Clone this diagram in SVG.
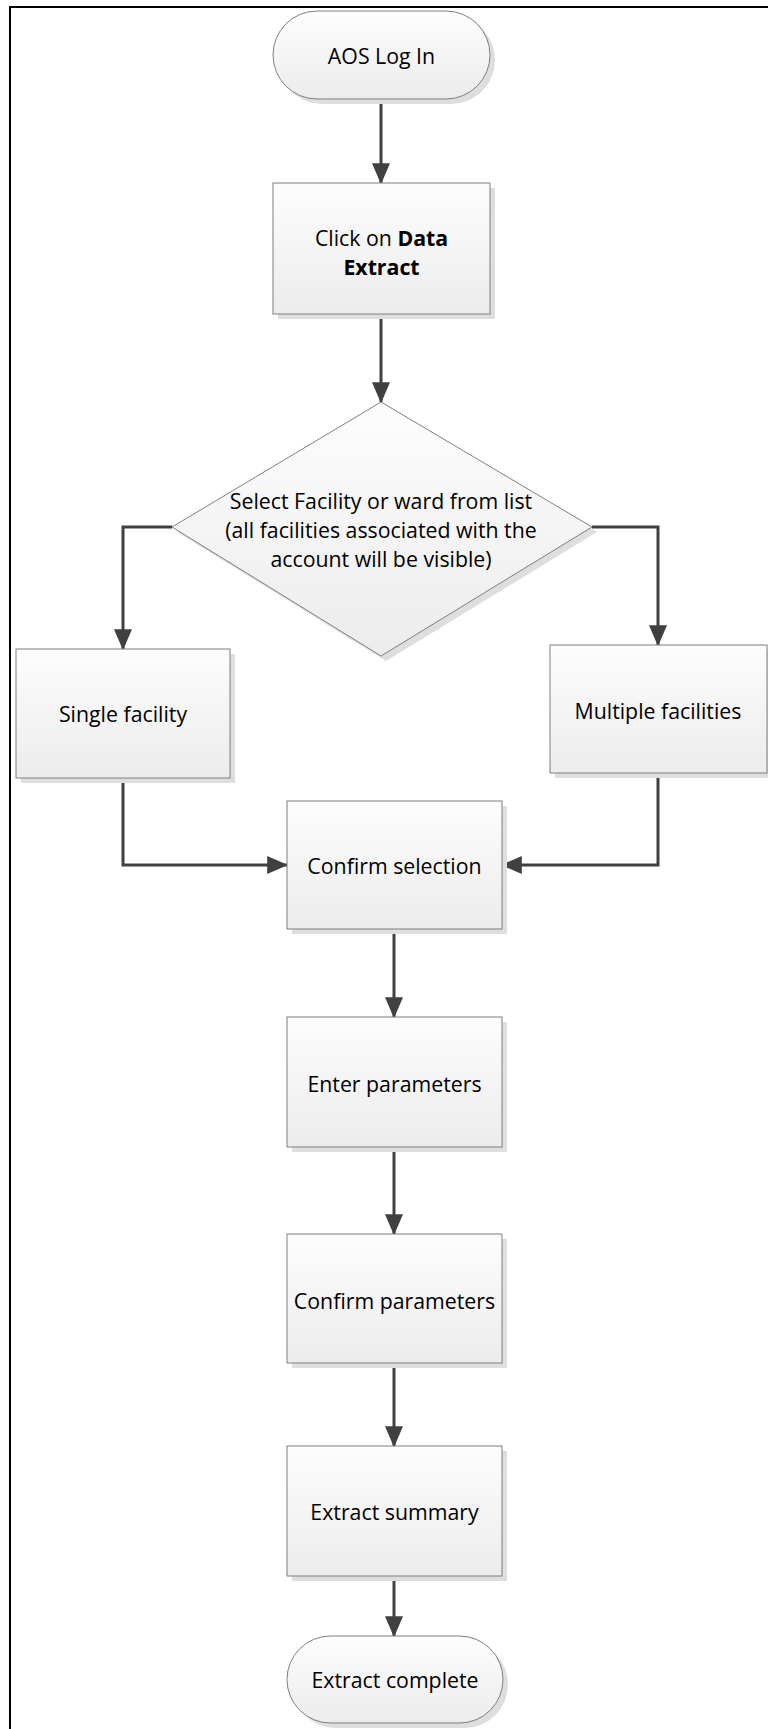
<svg xmlns="http://www.w3.org/2000/svg" width="768" height="1729" viewBox="0 0 768 1729">
<defs>
<linearGradient id="g" x1="0" y1="0" x2="0" y2="1">
<stop offset="0" stop-color="#fdfdfd"/>
<stop offset="1" stop-color="#ececec"/>
</linearGradient>
<marker id="ah" markerWidth="7" markerHeight="7" refX="6.6" refY="3" orient="auto" markerUnits="strokeWidth" viewBox="0 0 7 6">
<path d="M0,0 L7,3 L0,6 Z" fill="#404040"/>
</marker>
</defs>
<style>
.shape{fill:url(#g);stroke:#7f7f7f;stroke-width:1}
.shadow{fill:#dedede}
.t{font-family:"Open Sans","Liberation Sans",sans-serif;font-size:21.3px;fill:#000;text-anchor:middle;dominant-baseline:central}
.b{font-weight:bold}
.c{fill:none;stroke:#404040;stroke-width:3;marker-end:url(#ah)}
</style>
<rect width="768" height="1729" fill="#fff"/>
<path d="M10,1729 V7 H768" fill="none" stroke="#000" stroke-width="2"/>

<g id="connectors">
<path class="c" d="M381,99 V183"/>
<path class="c" d="M381,314 V402"/>
<path class="c" d="M172,527 H123 V649"/>
<path class="c" d="M592,527 H658 V645"/>
<path class="c" d="M123,778 V865 H287"/>
<path class="c" d="M658,773 V865 H502"/>
<path class="c" d="M394,929 V1017"/>
<path class="c" d="M394,1147 V1234"/>
<path class="c" d="M394,1363 V1446"/>
<path class="c" d="M394,1576 V1636"/>
</g>

<g id="aos-login">
<rect class="shadow" x="278" y="16" width="217" height="88" rx="44"/>
<rect class="shape" x="273" y="11" width="217" height="88" rx="44"/>
<text class="t" x="381.5" y="55">AOS Log In</text>
</g>

<g id="click-data-extract">
<rect class="shadow" x="278" y="188" width="217" height="131"/>
<rect class="shape" x="273" y="183" width="217" height="131"/>
<text class="t" x="381.5" y="237">Click on <tspan class="b">Data</tspan></text>
<text class="t b" x="381.5" y="266">Extract</text>
</g>

<g id="select-facility">
<path class="shadow" d="M386,407 L597,532 L386,661 L177,532 Z"/>
<path class="shape" d="M381,402 L592,527 L381,656 L172,527 Z"/>
<text class="t" x="381" y="500">Select Facility or ward from list</text>
<text class="t" x="381" y="529">(all facilities associated with the</text>
<text class="t" x="381" y="558">account will be visible)</text>
</g>

<g id="single-facility">
<rect class="shadow" x="21" y="654" width="214" height="129"/>
<rect class="shape" x="16" y="649" width="214" height="129"/>
<text class="t" x="123" y="713">Single facility</text>
</g>

<g id="multiple-facilities">
<rect class="shadow" x="555" y="650" width="217" height="128"/>
<rect class="shape" x="550" y="645" width="217" height="128"/>
<text class="t" x="658" y="710">Multiple facilities</text>
</g>

<g id="confirm-selection">
<rect class="shadow" x="292" y="806" width="215" height="128"/>
<rect class="shape" x="287" y="801" width="215" height="128"/>
<text class="t" x="394.5" y="865">Confirm selection</text>
</g>

<g id="enter-parameters">
<rect class="shadow" x="292" y="1022" width="215" height="130"/>
<rect class="shape" x="287" y="1017" width="215" height="130"/>
<text class="t" x="394.5" y="1083">Enter parameters</text>
</g>

<g id="confirm-parameters">
<rect class="shadow" x="292" y="1239" width="215" height="129"/>
<rect class="shape" x="287" y="1234" width="215" height="129"/>
<text class="t" x="394.5" y="1300">Confirm parameters</text>
</g>

<g id="extract-summary">
<rect class="shadow" x="292" y="1451" width="215" height="130"/>
<rect class="shape" x="287" y="1446" width="215" height="130"/>
<text class="t" x="394.5" y="1511">Extract summary</text>
</g>

<g id="extract-complete">
<rect class="shadow" x="292" y="1641" width="216" height="87" rx="43.5"/>
<rect class="shape" x="287" y="1636" width="216" height="87" rx="43.5"/>
<text class="t" x="395" y="1679">Extract complete</text>
</g>
</svg>
